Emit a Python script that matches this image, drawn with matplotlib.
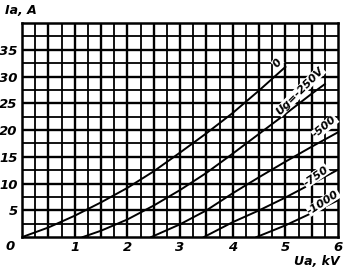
import numpy as np
import matplotlib.pyplot as plt

# anode current Ia (A) vs anode voltage Ua (kV) for several grid voltages
ua_0 = [0, 0.5, 1, 1.5, 2, 2.5, 3, 3.5, 4, 4.5, 5]
ia_0 = [0, 1.8, 4.0, 6.5, 9.2, 12.3, 15.8, 19.4, 23.2, 27.4, 31.8]
ua_250 = [1.15, 1.5, 2, 2.5, 3, 3.5, 4, 4.5, 5, 5.5, 5.75]
ia_250 = [0, 1.2, 3.3, 5.9, 8.8, 12.0, 15.6, 19.3, 23.0, 26.8, 28.6]
ua_500 = [2.45, 3, 3.5, 4, 4.5, 5, 5.5, 6]
ia_500 = [0, 2.4, 5.0, 8.2, 11.2, 14.1, 16.9, 19.6]
ua_750 = [3.45, 4, 4.5, 5, 5.5, 6]
ia_750 = [0, 2.8, 5.0, 7.4, 10.0, 12.6]
ua_1000 = [4.45, 5, 5.5, 6]
ia_1000 = [0, 2.2, 4.5, 6.9]

curves = [(ua_0, ia_0), (ua_250, ia_250), (ua_500, ia_500), (ua_750, ia_750), (ua_1000, ia_1000)]
labels = ["0", "Ug=-250V", "-500", "-750", "-1000"]
label_pos = [(4.85, 32.6, 52), (5.28, 27.3, 45), (5.75, 20.6, 40), (5.58, 11.4, 35), (5.72, 6.5, 33)]

x_ticks = [1, 2, 3, 4, 5, 6]
y_ticks = [5, 10, 15, 20, 25, 30, 35]

font = dict(family=["Liberation Sans Narrow", "DejaVu Sans"], style="italic", weight="bold")

fig = plt.figure(figsize=(3.5, 2.71), dpi=100)
ax = fig.add_axes([0.063, 0.125, 0.903, 0.79])
ax.set_xlim(0, 6)
ax.set_ylim(0, 40)

# grid
for gx in np.arange(0.25, 6, 0.25):
    ax.axvline(gx, color="black", lw=1.7 if round(gx * 4) % 2 == 0 else 1.3, zorder=1)
for gy in np.arange(2.5, 40, 2.5):
    ax.axhline(gy, color="black", lw=1.7 if round(gy / 2.5) % 2 == 0 else 1.3, zorder=1)
for s in ax.spines.values():
    s.set_linewidth(1.8)

for (x, y) in curves:
    ax.plot(x, y, color="black", lw=1.4, zorder=2)

for lab, (lx, ly, rot) in zip(labels, label_pos):
    ax.text(lx, ly, lab, rotation=rot, ha="center", va="center", fontsize=8, zorder=3,
            bbox=dict(facecolor="white", edgecolor="none", pad=0.3), **font)

ax.set_xticks(x_ticks)
ax.set_xticklabels([str(v) for v in x_ticks], fontsize=9.5, **font)
ax.set_yticks(y_ticks)
ax.set_yticklabels([str(v) for v in y_ticks], fontsize=9.5, **font)
ax.tick_params(length=0, pad=3)
ax.text(-0.13, -0.6, "0", ha="right", va="top", fontsize=9.5, **font)

fig.text(0.015, 0.96, "Ia, A", ha="left", va="center", fontsize=9, **font)
fig.text(0.97, 0.035, "Ua, kV", ha="right", va="center", fontsize=9, **font)

fig.savefig("out.png", dpi=100)
